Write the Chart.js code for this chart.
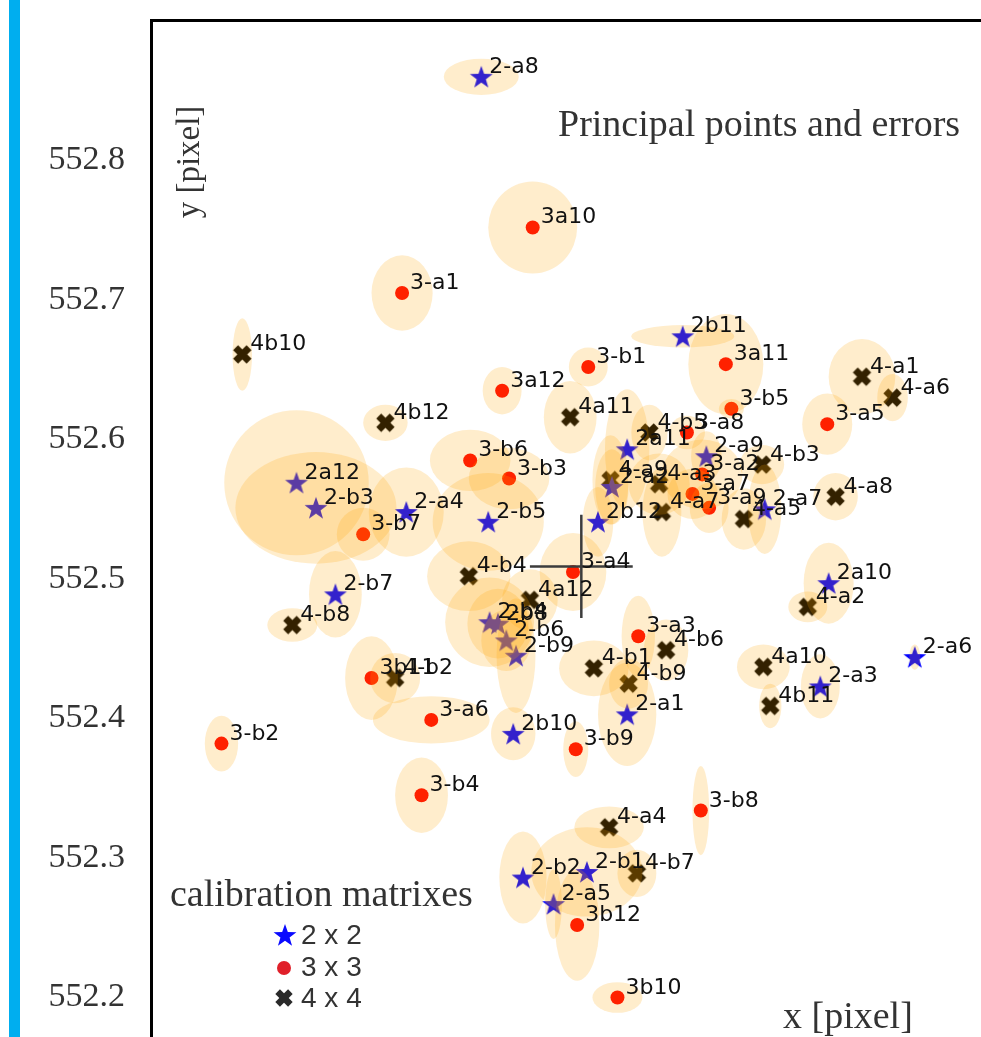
<!DOCTYPE html>
<html>
<head>
<meta charset="utf-8">
<script src="https://cdn.jsdelivr.net/npm/chart.js@4.4.1/dist/chart.umd.min.js"></script>
<style>
html, body { margin: 0; padding: 0; background: #fff; overflow: hidden; width: 981px; height: 1037px; }
#wrap { position: absolute; left: 0; top: 0; width: 1000px; height: 1060px; }
</style>
</head>
<body>
<div id="wrap"><canvas id="chart" width="1000" height="1060"></canvas></div>
<script>
// 2 x 2 calibration matrices
const names2 = ['2-a1', '2-a2', '2-a3', '2-a4', '2-a5', '2-a6', '2-a7', '2-a8', '2-a9', '2a10', '2a11', '2a12',
                '2-b1', '2-b2', '2-b3', '2-b4', '2-b5', '2-b6', '2-b7', '2b8', '2-b9', '2b10', '2b11', '2b12'];
const x2 = [640.342, 640.331, 640.481, 640.183, 640.289, 640.549, 640.441, 640.237, 640.399, 640.487, 640.342, 640.104,
            640.313, 640.267, 640.118, 640.243, 640.242, 640.255, 640.132, 640.249, 640.262, 640.260, 640.382, 640.321];
const y2 = [552.403, 552.566, 552.423, 552.548, 552.267, 552.444, 552.550, 552.860, 552.588, 552.497, 552.593, 552.569,
            552.290, 552.286, 552.551, 552.469, 552.541, 552.456, 552.489, 552.468, 552.445, 552.389, 552.674, 552.541];
const ex2 = [0.021, 0.012, 0.014, 0.027, 0.006, 0.004, 0.012, 0.027, 0.011, 0.018, 0.016, 0.052,
             0.040, 0.017, 0.058, 0.032, 0.040, 0.018, 0.019, 0.022, 0.014, 0.016, 0.037, 0.011];
const ey2 = [0.037, 0.027, 0.023, 0.032, 0.025, 0.009, 0.032, 0.013, 0.018, 0.029, 0.043, 0.052,
             0.032, 0.033, 0.040, 0.032, 0.035, 0.022, 0.031, 0.025, 0.041, 0.019, 0.008, 0.025];

// 3 x 3 calibration matrices
const names3 = ['3-a1', '3-a2', '3-a3', '3-a4', '3-a5', '3-a6', '3-a7', '3-a8', '3-a9', '3a10', '3a11', '3a12',
                '3-b1', '3-b2', '3-b3', '3-b4', '3-b5', '3-b6', '3-b7', '3-b8', '3-b9', '3b10', '3b11', '3b12'];
const x3 = [640.180, 640.396, 640.350, 640.303, 640.486, 640.201, 640.389, 640.385, 640.401, 640.274, 640.413, 640.252,
            640.314, 640.050, 640.257, 640.194, 640.417, 640.229, 640.152, 640.395, 640.305, 640.335, 640.158, 640.306];
const y3 = [552.705, 552.575, 552.459, 552.505, 552.611, 552.399, 552.561, 552.605, 552.551, 552.752, 552.654, 552.635,
            552.652, 552.382, 552.572, 552.345, 552.622, 552.585, 552.532, 552.334, 552.378, 552.200, 552.429, 552.252];
const ex3 = [0.022, 0.029, 0.012, 0.024, 0.018, 0.042, 0.018, 0.013, 0.014, 0.032, 0.027, 0.014,
             0.014, 0.012, 0.029, 0.019, 0.009, 0.029, 0.019, 0.006, 0.009, 0.018, 0.019, 0.016];
const ey3 = [0.027, 0.025, 0.029, 0.028, 0.022, 0.017, 0.018, 0.012, 0.018, 0.033, 0.036, 0.017,
             0.014, 0.020, 0.022, 0.027, 0.007, 0.022, 0.019, 0.032, 0.020, 0.011, 0.030, 0.040];

// 4 x 4 calibration matrices
const names4 = ['4-a1', '4-a2', '4-a3', '4-a4', '4-a5', '4-a6', '4-a7', '4-a8', '4-a9', '4a10', '4a11', '4a12',
                '4-b1', '4-b2', '4-b3', '4-b4', '4-b5', '4-b6', '4-b7', '4-b8', '4-b9', '4b10', '4b11', '4b12'];
const x4 = [640.511, 640.472, 640.365, 640.329, 640.426, 640.533, 640.367, 640.492, 640.330, 640.440, 640.301, 640.272,
            640.318, 640.175, 640.439, 640.228, 640.358, 640.370, 640.349, 640.101, 640.343, 640.065, 640.445, 640.168];
const y4 = [552.645, 552.480, 552.568, 552.322, 552.543, 552.630, 552.548, 552.559, 552.571, 552.437, 552.616, 552.485,
            552.436, 552.429, 552.582, 552.502, 552.605, 552.449, 552.289, 552.467, 552.425, 552.661, 552.409, 552.612];
const ex4 = [0.024, 0.014, 0.022, 0.025, 0.016, 0.011, 0.014, 0.016, 0.013, 0.019, 0.019, 0.020,
             0.025, 0.018, 0.016, 0.030, 0.013, 0.016, 0.014, 0.018, 0.014, 0.007, 0.008, 0.016];
const ey4 = [0.027, 0.011, 0.022, 0.015, 0.022, 0.017, 0.032, 0.017, 0.032, 0.016, 0.026, 0.022,
             0.020, 0.018, 0.014, 0.025, 0.020, 0.022, 0.017, 0.012, 0.018, 0.026, 0.016, 0.013];

// mean principal point and its spread
const meanPoint = [640.309, 552.509];
const meanErr = [0.037, 0.037];

const yTicks = [552.2, 552.3, 552.4, 552.5, 552.6, 552.7, 552.8];

const groups = [
    { names: names2, x: x2, y: y2, ex: ex2, ey: ey2 },
    { names: names3, x: x3, y: y3, ex: ex3, ey: ey3 },
    { names: names4, x: x4, y: y4, ex: ex4, ey: ey4 }
];

// marker pictures
function makeStar(color, r) {
    const s = Math.ceil(r * 2 + 2);
    const c = document.createElement('canvas');
    c.width = s; c.height = s;
    const g = c.getContext('2d');
    g.translate(s / 2, s / 2 + 1);
    g.beginPath();
    for (let i = 0; i < 10; i++) {
        const rad = i % 2 === 0 ? r : r * 0.4;
        const a = -Math.PI / 2 + i * Math.PI / 5;
        g.lineTo(rad * Math.cos(a), rad * Math.sin(a));
    }
    g.closePath();
    g.fillStyle = color;
    g.fill();
    return c;
}
function makeX(color, len, w) {
    const s = Math.ceil(len + 4);
    const c = document.createElement('canvas');
    c.width = s; c.height = s;
    const g = c.getContext('2d');
    g.translate(s / 2, s / 2);
    g.rotate(Math.PI / 4);
    g.fillStyle = color;
    g.fillRect(-len / 2, -w / 2, len, w);
    g.fillRect(-w / 2, -len / 2, w, len);
    return c;
}
const starImg = makeStar('#0000ff', 12);
const xImg = makeX('#000000', 19, 7);
const starLegend = makeStar('#0a0aff', 12);
const xLegend = makeX('#2a2a2a', 18, 6.5);

const toPoints = (xs, ys) => xs.map((v, i) => ({ x: v, y: ys[i] }));

const overlay = {
    id: 'overlay',
    beforeDraw(chart) {
        const ctx = chart.ctx;
        ctx.save();
        ctx.fillStyle = '#ffffff';
        ctx.fillRect(0, 0, chart.width, chart.height);
        ctx.fillStyle = '#00aeef';
        ctx.fillRect(9, 0, 11, chart.height);
        ctx.restore();
    },
    afterDatasetsDraw(chart) {
        const ctx = chart.ctx;
        const xs = chart.scales.x, ys = chart.scales.y, a = chart.chartArea;
        ctx.save();
        ctx.beginPath();
        ctx.rect(a.left, a.top, a.right - a.left, a.bottom - a.top);
        ctx.clip();

        // error ellipses
        ctx.fillStyle = 'rgba(255, 165, 0, 0.2)';
        groups.forEach(g => {
            g.x.forEach((v, i) => {
                const cx = xs.getPixelForValue(v), cy = ys.getPixelForValue(g.y[i]);
                const rx = Math.abs(xs.getPixelForValue(v + g.ex[i]) - cx);
                const ry = Math.abs(ys.getPixelForValue(g.y[i] + g.ey[i]) - cy);
                ctx.beginPath();
                ctx.ellipse(cx, cy, rx, ry, 0, 0, Math.PI * 2);
                ctx.fill();
            });
        });

        // mean with spread
        const mx = xs.getPixelForValue(meanPoint[0]), my = ys.getPixelForValue(meanPoint[1]);
        ctx.strokeStyle = '#3c3c3c';
        ctx.lineWidth = 2.5;
        ctx.beginPath();
        ctx.moveTo(xs.getPixelForValue(meanPoint[0] - meanErr[0]), my);
        ctx.lineTo(xs.getPixelForValue(meanPoint[0] + meanErr[0]), my);
        ctx.moveTo(mx, ys.getPixelForValue(meanPoint[1] - meanErr[1]));
        ctx.lineTo(mx, ys.getPixelForValue(meanPoint[1] + meanErr[1]));
        ctx.stroke();

        // point names
        ctx.fillStyle = '#111';
        ctx.font = '22px "DejaVu Sans"';
        ctx.textBaseline = 'alphabetic';
        ctx.textAlign = 'left';
        groups.forEach(g => {
            g.names.forEach((n, i) => {
                ctx.fillText(n, xs.getPixelForValue(g.x[i]) + 8, ys.getPixelForValue(g.y[i]) - 4);
            });
        });
        ctx.restore();

        // texts inside the frame
        ctx.save();
        ctx.fillStyle = '#333';
        ctx.font = '38px "Liberation Serif"';
        ctx.textAlign = 'left';
        ctx.fillText('Principal points and errors', 558, 136);
        ctx.fillText('x [pixel]', 783, 1028);
        ctx.fillText('calibration matrixes', 170, 906);
        ctx.save();
        ctx.translate(199, 162);
        ctx.rotate(-Math.PI / 2);
        ctx.font = '33px "Liberation Serif"';
        ctx.textAlign = 'center';
        ctx.fillText('y [pixel]', 0, 0);
        ctx.restore();

        // legend
        ctx.drawImage(starLegend, 285 - starLegend.width / 2, 935 - starLegend.height / 2);
        ctx.fillStyle = '#e0202a';
        ctx.beginPath();
        ctx.arc(284, 968, 7, 0, Math.PI * 2);
        ctx.fill();
        ctx.drawImage(xLegend, 284 - xLegend.width / 2, 998 - xLegend.height / 2);
        ctx.fillStyle = '#333';
        ctx.font = '28px "Liberation Sans"';
        ctx.textBaseline = 'middle';
        ctx.fillText('2 x 2', 301, 936);
        ctx.fillText('3 x 3', 301, 968);
        ctx.fillText('4 x 4', 301, 999);
        ctx.restore();

        // frame
        ctx.save();
        ctx.fillStyle = '#000';
        ctx.fillRect(a.left - 2, a.top - 2, 3, a.bottom - a.top + 2);
        ctx.fillRect(a.left - 2, a.top - 2, a.right - a.left + 2, 3);
        ctx.restore();
    }
};

new Chart(document.getElementById('chart'), {
    type: 'scatter',
    data: {
        datasets: [
            {
                label: '2 x 2',
                data: toPoints(x2, y2),
                pointStyle: starImg,
                pointRadius: 11
            },
            {
                label: '3 x 3',
                data: toPoints(x3, y3),
                pointStyle: 'circle',
                pointRadius: 7,
                backgroundColor: '#ff0000',
                borderWidth: 0
            },
            {
                label: '4 x 4',
                data: toPoints(x4, y4),
                pointStyle: xImg,
                pointRadius: 9
            }
        ]
    },
    options: {
        responsive: false,
        devicePixelRatio: 1,
        animation: false,
        events: [],
        layout: { padding: { left: 0, top: 21, right: 5, bottom: 10 } },
        plugins: {
            legend: { display: false },
            tooltip: { enabled: false },
            title: { display: false }
        },
        scales: {
            x: {
                type: 'linear',
                display: false,
                min: 640.0,
                max: 640.6017
            },
            y: {
                type: 'linear',
                min: 552.1638,
                max: 552.9,
                grid: { display: false, drawTicks: false },
                border: { display: false },
                afterBuildTicks: (scale) => { scale.ticks = yTicks.map(v => ({ value: v })); },
                afterFit: (scale) => {
                    scale.width = 152;
                    scale.paddingTop = 0;
                    scale.paddingBottom = 0;
                },
                ticks: {
                    padding: 27,
                    color: '#333',
                    font: { family: 'Liberation Serif', size: 34 },
                    callback: (v) => Number(v).toFixed(1)
                }
            }
        }
    },
    plugins: [overlay]
});
</script>
</body>
</html>
